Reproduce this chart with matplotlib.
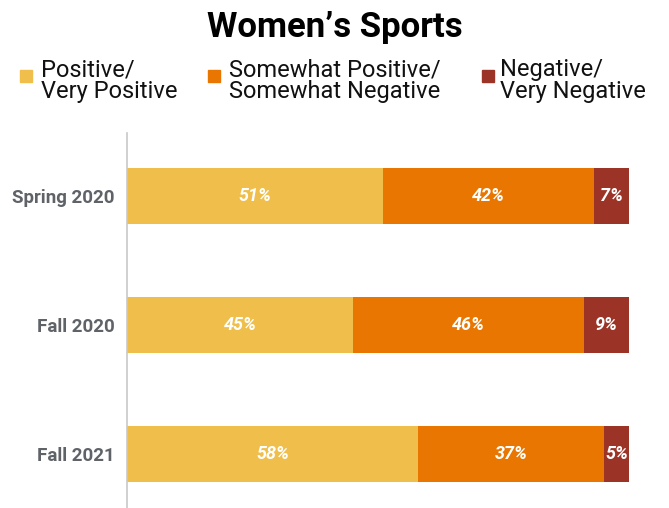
import matplotlib.pyplot as plt
from matplotlib.patches import Rectangle

# data
periods = ['Spring 2020', 'Fall 2020', 'Fall 2021']
positive = [51, 45, 58]
somewhat = [42, 46, 37]
negative = [7, 9, 5]
series_names = ['Positive/\nVery Positive', 'Somewhat Positive/\nSomewhat Negative', 'Negative/\nVery Negative']
colors = ['#F0BE4A', '#E87600', '#9B3426']

plt.rcParams['font.family'] = ['Roboto', 'DejaVu Sans']

fig = plt.figure(figsize=(6.69, 5.08), dpi=100)
ax = fig.add_axes([127 / 669, 0, (629 - 127) / 669, 1 - 133 / 508])

left = [0, 0, 0]
for vals, col in zip([positive, somewhat, negative], colors):
    bars = ax.barh(periods, vals, left=left, color=col, height=0.43)
    for b, v in zip(bars, vals):
        ax.text(b.get_x() + b.get_width() / 2, b.get_y() + b.get_height() / 2,
                f'{v}%', ha='center', va='center', color='white',
                fontsize=13, fontweight='bold', fontstyle='italic')
    left = [l + v for l, v in zip(left, vals)]

ax.set_xlim(0, 100)
ax.set_ylim(2.42, -0.49)
ax.set_xticks([])
for s in ['top', 'right', 'bottom']:
    ax.spines[s].set_visible(False)
ax.spines['left'].set_color('#c8c8c8')
ax.spines['left'].set_linewidth(1.2)
ax.tick_params(axis='y', length=0, pad=9)
for lbl in ax.get_yticklabels():
    lbl.set_fontsize(13.5)
    lbl.set_fontweight('bold')
    lbl.set_color('#5f6368')

fig.text(0.5, 1 - 28 / 508, 'Women\u2019s Sports', ha='center', va='center',
         fontsize=25, fontweight='bold', color='black')

# legend drawn by hand
sq_x = [20, 208, 482]
tx_x = [41, 229, 500]
for name, col, sx, tx in zip(series_names, colors, sq_x, tx_x):
    fig.patches.append(Rectangle((sx / 669, 1 - 82 / 508), 12 / 669, 12 / 508,
                                 transform=fig.transFigure, color=col))
    fig.text(tx / 669, 1 - 58 / 508, name, ha='left', va='top',
             fontsize=17, color='#111111', linespacing=0.92)

fig.savefig('out.png', dpi=100)
